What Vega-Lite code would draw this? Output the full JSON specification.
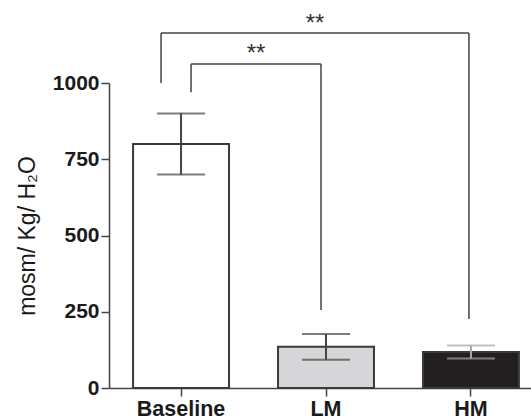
{
  "$schema": "https://vega.github.io/schema/vega-lite/v6.json",
  "width": 422,
  "height": 305,
  "autosize": {"type": "none"},
  "padding": {"left": 109, "top": 83, "right": 0, "bottom": 32},
  "background": "white",
  "config": {
    "view": {"stroke": null},
    "font": "Liberation Sans"
  },
  "datasets": {
    "bars": [
      {"group": "Baseline", "mean": 800, "lo": 700, "hi": 900},
      {"group": "LM", "mean": 135, "lo": 93, "hi": 177},
      {"group": "HM", "mean": 118, "lo": 97, "hi": 139}
    ],
    "brackets": [
      {"from": "Baseline", "to": "HM", "top": 1164, "fromEnd": 1000, "toEnd": 226, "label": "**"},
      {"from": "Baseline", "to": "LM", "top": 1062, "fromEnd": 970, "toEnd": 256, "label": "**"}
    ]
  },
  "encoding": {
    "x": {
      "field": "group", "type": "nominal",
      "scale": {"domain": ["Baseline", "LM", "HM"], "range": [0, 434], "paddingInner": 0.338, "paddingOuter": 0.166},
      "axis": {
        "title": null, "labelAngle": 0, "labelFont": "Liberation Sans", "labelFontWeight": "bold",
        "labelFontSize": 21.5, "labelColor": "#1a1a1a", "labelPadding": 2,
        "tickSize": 8, "tickColor": "#444", "tickWidth": 1.5,
        "domainColor": "#444", "domainWidth": 1.5
      }
    }
  },
  "layer": [
    {
      "data": {"name": "bars"},
      "mark": {"type": "bar", "stroke": "#3a3a3a", "strokeWidth": 2},
      "encoding": {
        "y": {
          "field": "mean", "type": "quantitative",
          "scale": {"domain": [0, 1000], "nice": false},
          "axis": {
            "title": "mosm/ Kg/ H₂O", "titleFont": "Liberation Sans", "titleFontWeight": "normal",
            "titleFontSize": 23, "titleColor": "#1a1a1a", "titlePadding": 13,
            "values": [0, 250, 500, 750, 1000], "format": "d", "grid": false,
            "labelFont": "Liberation Sans", "labelFontWeight": "bold", "labelFontSize": 21,
            "labelColor": "#1a1a1a", "labelPadding": 2,
            "tickSize": 8, "tickColor": "#444", "tickWidth": 1.5,
            "domainColor": "#444", "domainWidth": 1.5
          }
        },
        "fill": {
          "field": "group", "type": "nominal",
          "scale": {"domain": ["Baseline", "LM", "HM"], "range": ["#ffffff", "#d6d6d8", "#231f20"]},
          "legend": null
        }
      }
    },
    {
      "data": {"name": "bars"},
      "mark": {"type": "rule", "strokeWidth": 2},
      "encoding": {
        "y": {"field": "lo", "type": "quantitative"},
        "y2": {"field": "hi"},
        "stroke": {"condition": {"test": "datum.group === 'HM'", "value": "#a8a8a8"}, "value": "#444444"}
      }
    },
    {
      "data": {"name": "bars"},
      "mark": {"type": "tick", "size": 48, "thickness": 2},
      "encoding": {
        "y": {"field": "lo", "type": "quantitative"},
        "color": {"condition": {"test": "datum.group === 'HM'", "value": "#a8a8a8"}, "value": "#444444"}
      }
    },
    {
      "data": {"name": "bars"},
      "mark": {"type": "tick", "size": 48, "thickness": 2},
      "encoding": {
        "y": {"field": "hi", "type": "quantitative"},
        "color": {"condition": {"test": "datum.group === 'HM'", "value": "#a8a8a8"}, "value": "#444444"}
      }
    },
    {
      "data": {"name": "brackets"},
      "transform": [{"filter": "datum.to === 'HM'"}],
      "layer": [
        {
          "mark": {"type": "rule", "stroke": "#444", "strokeWidth": 1.5, "xOffset": -20, "x2Offset": -2},
          "encoding": {"x": {"field": "from", "type": "nominal"}, "x2": {"field": "to"}, "y": {"field": "top", "type": "quantitative"}}
        },
        {
          "mark": {"type": "rule", "stroke": "#444", "strokeWidth": 1.5, "xOffset": -20},
          "encoding": {"x": {"field": "from", "type": "nominal"}, "y": {"field": "fromEnd", "type": "quantitative"}, "y2": {"field": "top"}}
        },
        {
          "mark": {"type": "rule", "stroke": "#444", "strokeWidth": 1.5, "xOffset": -2},
          "encoding": {"x": {"field": "to", "type": "nominal"}, "y": {"field": "toEnd", "type": "quantitative"}, "y2": {"field": "top"}}
        },
        {
          "mark": {"type": "text", "font": "Liberation Sans", "fontSize": 24, "color": "#333", "xOffset": 134, "dy": -2, "baseline": "alphabetic", "align": "center"},
          "encoding": {"x": {"field": "from", "type": "nominal"}, "y": {"field": "top", "type": "quantitative"}, "text": {"field": "label"}}
        }
      ]
    },
    {
      "data": {"name": "brackets"},
      "transform": [{"filter": "datum.to === 'LM'"}],
      "layer": [
        {
          "mark": {"type": "rule", "stroke": "#444", "strokeWidth": 1.5, "xOffset": 10, "x2Offset": -5},
          "encoding": {"x": {"field": "from", "type": "nominal"}, "x2": {"field": "to"}, "y": {"field": "top", "type": "quantitative"}}
        },
        {
          "mark": {"type": "rule", "stroke": "#444", "strokeWidth": 1.5, "xOffset": 10},
          "encoding": {"x": {"field": "from", "type": "nominal"}, "y": {"field": "fromEnd", "type": "quantitative"}, "y2": {"field": "top"}}
        },
        {
          "mark": {"type": "rule", "stroke": "#444", "strokeWidth": 1.5, "xOffset": -5},
          "encoding": {"x": {"field": "to", "type": "nominal"}, "y": {"field": "toEnd", "type": "quantitative"}, "y2": {"field": "top"}}
        },
        {
          "mark": {"type": "text", "font": "Liberation Sans", "fontSize": 24, "color": "#333", "xOffset": 75, "dy": -3, "baseline": "alphabetic", "align": "center"},
          "encoding": {"x": {"field": "from", "type": "nominal"}, "y": {"field": "top", "type": "quantitative"}, "text": {"field": "label"}}
        }
      ]
    }
  ]
}
